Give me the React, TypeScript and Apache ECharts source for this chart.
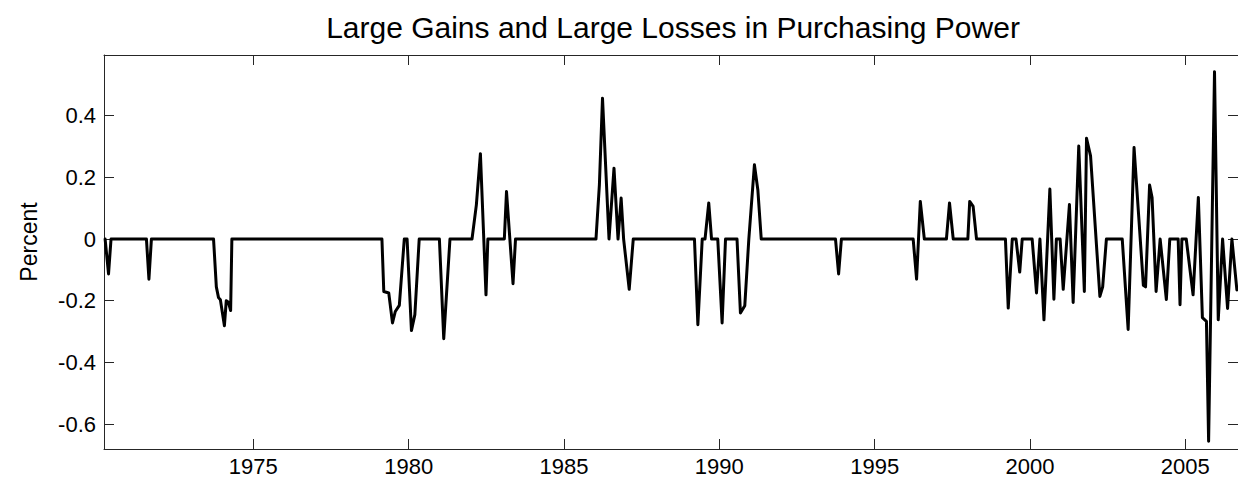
import React, { useEffect, useRef } from "react";
import * as echarts from "echarts";

const TITLE = "Large Gains and Large Losses in Purchasing Power";
const Y_NAME = "Percent";

const X_MIN = 1970.194;
const X_MAX = 2006.696;
const Y_MIN = -0.681;
const Y_MAX = 0.597;

const X_TICKS = [1975, 1980, 1985, 1990, 1995, 2000, 2005];
const Y_TICKS = [-0.6, -0.4, -0.2, 0, 0.2, 0.4];

const POINTS_1970S: [number, number][] = [
  [1970.23, 0], [1970.34, -0.113], [1970.42, 0],
  [1971.56, 0], [1971.64, -0.13], [1971.72, 0],
  [1973.72, 0], [1973.81, -0.155], [1973.88, -0.19], [1973.94, -0.197],
  [1974.07, -0.281], [1974.13, -0.2], [1974.2, -0.205], [1974.27, -0.232], [1974.31, 0],
  [1979.14, 0], [1979.2, -0.17], [1979.36, -0.175], [1979.48, -0.272],
  [1979.57, -0.235], [1979.7, -0.215], [1979.86, 0], [1979.95, 0],
];

const POINTS_1980S: [number, number][] = [
  [1980.09, -0.297], [1980.2, -0.245], [1980.34, 0],
  [1980.99, 0], [1981.13, -0.323], [1981.33, 0],
  [1982.04, 0], [1982.18, 0.111], [1982.31, 0.277], [1982.49, -0.181], [1982.55, 0],
  [1983.08, 0], [1983.15, 0.154], [1983.36, -0.145], [1983.44, 0],
  [1986.03, 0], [1986.14, 0.176], [1986.24, 0.457], [1986.45, 0], [1986.61, 0.23],
  [1986.74, 0], [1986.84, 0.133], [1986.92, 0], [1987.1, -0.163], [1987.23, 0],
  [1989.2, 0], [1989.31, -0.278], [1989.45, 0], [1989.54, 0], [1989.66, 0.117],
  [1989.75, 0], [1989.95, 0],
];

const POINTS_1990S: [number, number][] = [
  [1990.09, -0.272], [1990.2, 0],
  [1990.57, 0], [1990.68, -0.24], [1990.82, -0.216], [1990.95, 0],
  [1991.13, 0.241], [1991.24, 0.16], [1991.35, 0],
  [1993.74, 0], [1993.84, -0.113], [1993.93, 0],
  [1996.24, 0], [1996.35, -0.13], [1996.47, 0.122], [1996.6, 0],
  [1997.31, 0], [1997.41, 0.117], [1997.53, 0],
  [1998.0, 0], [1998.06, 0.122], [1998.17, 0.106], [1998.28, 0],
  [1999.21, 0], [1999.3, -0.224], [1999.43, 0], [1999.55, 0], [1999.67, -0.107], [1999.75, 0],
];

const POINTS_2000S: [number, number][] = [
  [2000.07, 0], [2000.21, -0.175], [2000.32, 0], [2000.45, -0.262], [2000.64, 0.162],
  [2000.77, -0.195], [2000.85, 0], [2000.97, 0], [2001.07, -0.163], [2001.27, 0.112],
  [2001.39, -0.206], [2001.57, 0.302], [2001.75, -0.17], [2001.82, 0.327], [2001.95, 0.27],
  [2002.25, -0.186], [2002.34, -0.155], [2002.46, 0],
  [2002.97, 0], [2003.16, -0.293], [2003.35, 0.297], [2003.65, -0.15], [2003.72, -0.155],
  [2003.85, 0.175], [2003.93, 0.135], [2004.06, -0.17], [2004.19, 0], [2004.39, -0.196],
  [2004.5, 0], [2004.77, 0], [2004.83, -0.213], [2004.89, 0],
  [2005.03, 0], [2005.25, -0.181], [2005.42, 0.135], [2005.55, -0.255], [2005.68, -0.267],
  [2005.75, -0.656], [2005.94, 0.543], [2006.06, -0.262], [2006.2, 0], [2006.36, -0.225],
  [2006.5, 0], [2006.66, -0.165],
];

const FONT = "'Liberation Sans', Arial, Helvetica, sans-serif";
const AXIS_COLOR = "#262626";

export default function App() {
  const ref = useRef<HTMLDivElement>(null);

  useEffect(() => {
    if (!ref.current) return;
    const chart = echarts.init(ref.current, undefined, { renderer: "svg" });
    const data = [...POINTS_1970S, ...POINTS_1980S, ...POINTS_1990S, ...POINTS_2000S];

    const xBase = {
      type: "value" as const,
      min: X_MIN,
      max: X_MAX,
      splitLine: { show: false },
      axisLine: { show: true, onZero: false, lineStyle: { color: AXIS_COLOR, width: 1 } },
    };
    const yBase = {
      type: "value" as const,
      min: Y_MIN,
      max: Y_MAX,
      splitLine: { show: false },
      axisLine: { show: true, onZero: false, lineStyle: { color: AXIS_COLOR, width: 1 } },
    };

    chart.setOption({
      animation: false,
      backgroundColor: "#ffffff",
      title: {
        text: TITLE,
        left: 668,
        top: 7,
        textAlign: "center",
        textStyle: { fontFamily: FONT, fontSize: 30, fontWeight: "normal", color: "#000" },
      },
      graphic: [
        {
          type: "text",
          x: 29,
          y: 242,
          rotation: Math.PI / 2,
          style: {
            text: Y_NAME,
            fontFamily: FONT,
            fontSize: 23,
            fill: "#000",
            align: "center",
            verticalAlign: "middle",
          },
        },
      ],
      grid: { left: 104, right: 0, top: 55, bottom: 38, containLabel: false },
      xAxis: [
        {
          ...xBase,
          position: "bottom",
          axisTick: { show: true, inside: true, length: 10, customValues: X_TICKS, lineStyle: { color: AXIS_COLOR } },
          axisLabel: {
            show: true,
            customValues: X_TICKS,
            margin: 6,
            fontSize: 22,
            fontFamily: FONT,
            color: "#000",
            formatter: (v: number) => String(Math.round(v)),
          },
        },
        {
          ...xBase,
          position: "top",
          axisTick: { show: true, inside: true, length: 10, customValues: X_TICKS, lineStyle: { color: AXIS_COLOR } },
          axisLabel: { show: false },
        },
      ],
      yAxis: [
        {
          ...yBase,
          position: "left",
          axisTick: { show: true, inside: true, length: 10, customValues: Y_TICKS, lineStyle: { color: AXIS_COLOR } },
          axisLabel: {
            show: true,
            customValues: Y_TICKS,
            margin: 8,
            fontSize: 22,
            fontFamily: FONT,
            color: "#000",
            formatter: (v: number) => {
              const r = Math.round(v * 10) / 10;
              return r === 0 ? "0" : String(r);
            },
          },
        },
        {
          ...yBase,
          position: "right",
          axisTick: { show: true, inside: true, length: 10, customValues: Y_TICKS, lineStyle: { color: AXIS_COLOR } },
          axisLabel: { show: false },
        },
      ],
      series: [
        {
          type: "line",
          data,
          xAxisIndex: 0,
          yAxisIndex: 0,
          showSymbol: false,
          symbol: "none",
          clip: true,
          lineStyle: { color: "#000", width: 3, join: "round", cap: "round" },
        },
      ],
    });

    return () => chart.dispose();
  }, []);

  return (
    <div
      ref={ref}
      style={{ position: "fixed", left: 0, top: 0, width: 1238, height: 487, background: "#fff" }}
    />
  );
}
